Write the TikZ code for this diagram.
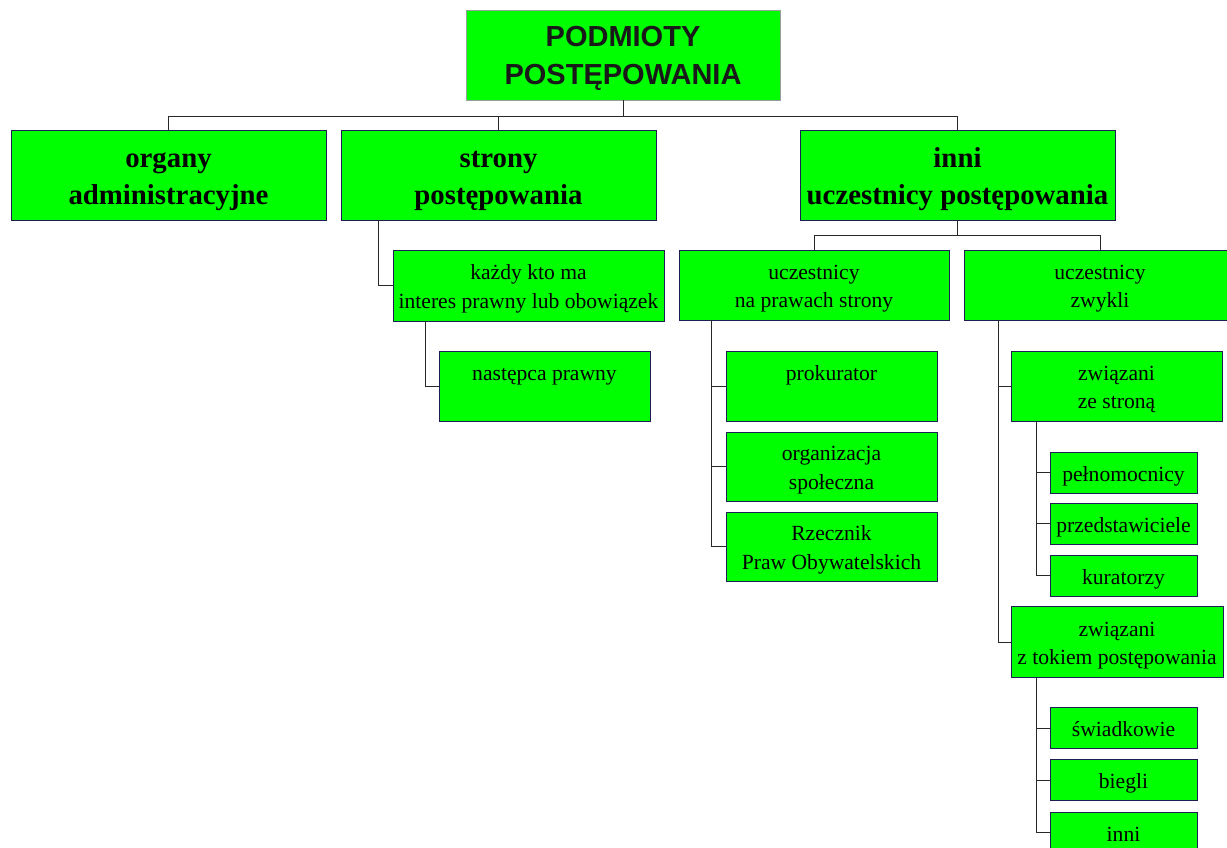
\documentclass[tikz,border=0pt]{standalone}
\usepackage{fontspec}
\setmainfont{Liberation Serif}
\newfontfamily\hdfont{Liberation Sans}
\definecolor{boxgreen}{RGB}{0,255,0}
\definecolor{boxedge}{RGB}{30,30,85}
\definecolor{topedge}{RGB}{150,160,150}
\definecolor{linec}{RGB}{40,40,40}
\newcommand\mystrS{\rule[-5pt]{0pt}{27pt}}
\newcommand\mystrB{\rule[-6.6pt]{0pt}{34.6pt}}
\newcommand\mystrT{\rule[-6.3pt]{0pt}{33.3pt}}
\begin{document}
\begin{tikzpicture}[x=1pt,y=-1pt,
  box/.style={draw=boxedge,line width=0.9pt,fill=boxgreen,inner sep=0pt,align=center,
    font=\fontsize{21.6}{28.4}\selectfont},
  bigbox/.style={box,font=\fontsize{28.8}{37.4}\selectfont\bfseries},
  topbox/.style={box,draw=topedge,font=\hdfont\fontsize{29}{37.3}\selectfont\bfseries,text=black!90},
  conn/.style={draw=linec,line width=0.8pt}]
\useasboundingbox (0,0) rectangle (1227,847);
% top
\node[topbox,minimum width=314pt,minimum height=90pt] (top) at (623,55) {\mystrT PODMIOTY\\\mystrT POSTĘPOWANIA};
% level 1
\node[bigbox,minimum width=315pt,minimum height=90pt] (organy) at (168.5,175) {\mystrB organy\\\mystrB administracyjne};
\node[bigbox,minimum width=315pt,minimum height=90pt] (strony) at (498.5,175) {\mystrB strony\\\mystrB postępowania};
\node[bigbox,minimum width=315pt,minimum height=90pt] (inni) at (957.5,175) {\mystrB inni\\\mystrB uczestnicy postępowania};
% level 2
\node[box,minimum width=271pt,minimum height=71pt] (kazdy) at (528.5,285.5) {\mystrS każdy kto ma\\\mystrS interes prawny lub obowiązek};
\node[box,minimum width=211pt,minimum height=70pt] (nastepca) at (544.5,386) {\mystrS następca prawny\\\mystrS};
\node[box,minimum width=270pt,minimum height=70pt] (naprawach) at (814,285) {\mystrS uczestnicy\\\mystrS na prawach strony};
\node[box,minimum width=271pt,minimum height=70pt] (zwykli) at (1100,285) {\mystrS uczestnicy\\\mystrS zwykli};
% under na prawach strony
\node[box,minimum width=211pt,minimum height=70pt] (prokurator) at (831.5,386) {\mystrS prokurator\\\mystrS};
\node[box,minimum width=211pt,minimum height=69pt] (organizacja) at (831.5,466.5) {\mystrS organizacja\\\mystrS społeczna};
\node[box,minimum width=211pt,minimum height=69pt] (rzecznik) at (831.5,546.5) {\mystrS Rzecznik\\\mystrS Praw Obywatelskich};
% under zwykli
\node[box,minimum width=211pt,minimum height=70pt] (zwstrona) at (1116.5,386) {\mystrS związani\\\mystrS ze stroną};
\node[box,minimum width=147pt,minimum height=41pt] (pelno) at (1123.5,472.5) {\mystrS pełnomocnicy};
\node[box,minimum width=147pt,minimum height=41pt] (przed) at (1123.5,523.5) {\mystrS przedstawiciele};
\node[box,minimum width=147pt,minimum height=41pt] (kurat) at (1123.5,575.5) {\mystrS kuratorzy};
\node[box,minimum width=212pt,minimum height=71pt] (zwtok) at (1117,642) {\mystrS związani\\\mystrS z tokiem postępowania};
\node[box,minimum width=147pt,minimum height=41pt] (swiad) at (1123.5,728) {\mystrS świadkowie};
\node[box,minimum width=147pt,minimum height=41pt] (biegli) at (1123.5,780) {\mystrS biegli};
\node[box,minimum width=147pt,minimum height=41pt] (inniu) at (1123.5,832.5) {\mystrS inni};
% connectors
\path[conn] (top.south) -- ++(0,16) -| (organy.north);
\path[conn] (top.south) -- ++(0,16) -| (strony.north);
\path[conn] (top.south) -- ++(0,16) -| (inni.north);
\path[conn] (strony.south west) ++(38,0) |- (kazdy.west);
\path[conn] (kazdy.south west) ++(33,0) |- (nastepca.west);
\path[conn] (inni.south) -- ++(0,15) -| (naprawach.north);
\path[conn] (inni.south) -- ++(0,15) -| (zwykli.north);
\path[conn] (naprawach.south west) ++(33,0) |- (prokurator.west);
\path[conn] (naprawach.south west) ++(33,0) |- (organizacja.west);
\path[conn] (naprawach.south west) ++(33,0) |- (rzecznik.west);
\path[conn] (zwykli.south west) ++(34,0) |- (zwstrona.west);
\path[conn] (zwykli.south west) ++(34,0) |- (zwtok.west);
\path[conn] (zwstrona.south west) ++(26,0) |- (pelno.west);
\path[conn] (zwstrona.south west) ++(26,0) |- (przed.west);
\path[conn] (zwstrona.south west) ++(26,0) |- (kurat.west);
\path[conn] (zwtok.south west) ++(26,0) |- (swiad.west);
\path[conn] (zwtok.south west) ++(26,0) |- (biegli.west);
\path[conn] (zwtok.south west) ++(26,0) |- (inniu.west);
\end{tikzpicture}
\end{document}
